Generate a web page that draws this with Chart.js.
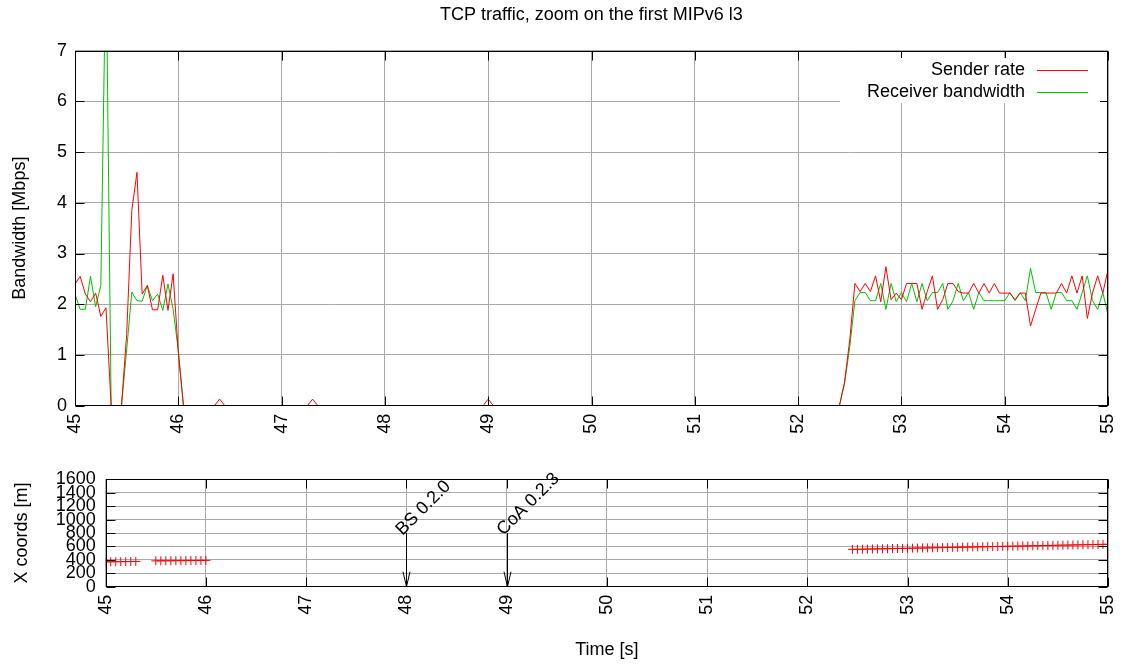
<!DOCTYPE html>
<html>
<head>
<meta charset="utf-8">
<title>TCP traffic, zoom on the first MIPv6 l3</title>
<script src="https://cdn.jsdelivr.net/npm/chart.js@4.4.0/dist/chart.umd.min.js"></script>
<style>
  body { margin: 0; background: #fff; }
  #wrap { position: relative; width: 1121px; height: 664px; }
  canvas { position: absolute; left: 0; }
</style>
</head>
<body>
<div id="wrap">
  <canvas id="bwChart" width="1121" height="450" style="top:0"></canvas>
  <canvas id="posChart" width="1121" height="214" style="top:450px"></canvas>
</div>
<script>
// sample times [s] for the bandwidth plot (flat zero stretches only keep their ends)
const time = [
  45, 45.05, 45.1, 45.15, 45.2, 45.25, 45.3, 45.35, 45.4, 45.45, 45.5,
  45.55, 45.6, 45.65, 45.7, 45.75, 45.8, 45.85, 45.9, 45.95, 46, 46.05,
  46.35, 46.4, 46.45, 47.25, 47.3, 47.35, 48.95, 49, 49.05,
  52.4, 52.45, 52.5, 52.55, 52.6, 52.65, 52.7, 52.75, 52.8, 52.85, 52.9, 52.95,
  53, 53.05, 53.1, 53.15, 53.2, 53.25, 53.3, 53.35, 53.4, 53.45, 53.5, 53.55,
  53.6, 53.65, 53.7, 53.75, 53.8, 53.85, 53.9, 53.95, 54, 54.05, 54.1, 54.15,
  54.2, 54.25, 54.3, 54.35, 54.4, 54.45, 54.5, 54.55, 54.6, 54.65, 54.7, 54.75,
  54.8, 54.85, 54.9, 54.95, 55
];
// Mbps
const senderRate = [
  2.4, 2.55, 2.2, 2.05, 2.22, 1.76, 1.93, 0, 0, 0, 1.4,
  3.85, 4.6, 2.2, 2.37, 1.89, 1.89, 2.57, 1.88, 2.6, 1.05, 0,
  0, 0.13, 0, 0, 0.13, 0, 0, 0.13, 0,
  0, 0.47, 1.3, 2.41, 2.25, 2.41, 2.25, 2.56, 2.05, 2.74, 2.09, 2.22,
  2.09, 2.41, 2.41, 2.41, 1.9, 2.25, 2.56, 1.9, 2.09, 2.41, 2.41, 2.25,
  2.22, 2.22, 2.41, 2.22, 2.41, 2.22, 2.41, 2.22, 2.22, 2.22, 2.09, 2.22,
  2.22, 1.57, 1.9, 2.22, 2.22, 2.22, 2.22, 2.41, 2.22, 2.56, 2.22, 2.56,
  1.72, 2.22, 2.56, 2.22, 2.68
];
const receiverBw = [
  2.2, 1.9, 1.9, 2.55, 1.95, 2.37, 9, 0, 0, 0, 1.1,
  2.24, 2.07, 2.06, 2.37, 2.07, 2.2, 1.88, 2.4, 1.9, 1.09, 0,
  0, 0, 0, 0, 0, 0, 0, 0, 0,
  0, 0.44, 1.16, 2.07, 2.23, 2.23, 2.07, 2.07, 2.41, 1.9, 2.41, 2.05,
  2.23, 2.05, 2.41, 2.05, 2.41, 2.07, 2.23, 2.23, 2.41, 1.9, 2.07, 2.41,
  2.07, 2.23, 1.9, 2.23, 2.07, 2.07, 2.07, 2.07, 2.07, 2.23, 2.07, 2.23,
  2.07, 2.71, 2.23, 2.23, 2.23, 1.9, 2.23, 2.23, 2.07, 2.07, 1.9, 2.23,
  2.56, 2.07, 1.9, 2.23, 1.79
];

// mobile node position samples
const posTime = [
  45, 45.05, 45.1, 45.15, 45.2, 45.25, 45.3,
  45.5, 45.55, 45.6, 45.65, 45.7, 45.75, 45.8, 45.85, 45.9, 45.95, 46,
  52.45, 52.5, 52.55, 52.6, 52.65, 52.7, 52.75, 52.8, 52.85, 52.9, 52.95,
  53, 53.05, 53.1, 53.15, 53.2, 53.25, 53.3, 53.35, 53.4, 53.45, 53.5, 53.55,
  53.6, 53.65, 53.7, 53.75, 53.8, 53.85, 53.9, 53.95, 54, 54.05, 54.1, 54.15,
  54.2, 54.25, 54.3, 54.35, 54.4, 54.45, 54.5, 54.55, 54.6, 54.65, 54.7, 54.75,
  54.8, 54.85, 54.9, 54.95, 55
];
const posX = [
  370, 371, 372, 373, 374, 375, 376,
  385, 386, 386, 387, 388, 388, 389, 390, 390, 391, 392,
  556, 557, 559, 560, 562, 563, 565, 566, 568, 569, 571,
  572, 574, 575, 577, 578, 580, 581, 583, 584, 586, 587, 589,
  590, 592, 593, 595, 596, 598, 599, 601, 602, 604, 605, 607,
  608, 610, 611, 613, 614, 616, 617, 619, 620, 622, 623, 625,
  626, 628, 629, 631, 632
];

// handover events
const eventTime = [48, 49];
const eventLabel = ['BS 0.2.0', 'CoA 0.2.3'];
const eventFrom = 800;

const bwTicks = [0, 1, 2, 3, 4, 5, 6, 7];
const posTicks = [0, 200, 400, 600, 800, 1000, 1200, 1400, 1600];

const FONT = "'Liberation Sans', Arial, Helvetica, sans-serif";
const GRID = '#a9a9a9';
Chart.defaults.font.family = FONT;
Chart.defaults.font.size = 18;
Chart.defaults.color = '#000';
Chart.defaults.animation = false;

function pts(xs, ys) {
  return xs.map((x, i) => ({x: x, y: ys[i]}));
}

// gnuplot style border with inward ticks on all four sides
const frame = {
  id: 'frame',
  afterDatasetsDraw(chart) {
    const {ctx, chartArea: a, scales} = chart;
    const L = Math.round(a.left) + 0.5, R = Math.round(a.right) - 0.5;
    const T = Math.round(a.top) + 0.5, B = Math.round(a.bottom) - 0.5;
    ctx.save();
    ctx.strokeStyle = '#000';
    ctx.lineWidth = 1;
    ctx.beginPath();
    scales.x.ticks.forEach(t => {
      const px = Math.round(scales.x.getPixelForValue(t.value)) + 0.5;
      ctx.moveTo(px, B); ctx.lineTo(px, B - 9);
      ctx.moveTo(px, T); ctx.lineTo(px, T + 9);
    });
    scales.y.ticks.forEach(t => {
      const py = Math.round(scales.y.getPixelForValue(t.value)) + 0.5;
      ctx.moveTo(L, py); ctx.lineTo(L + 9, py);
      ctx.moveTo(R, py); ctx.lineTo(R - 9, py);
    });
    ctx.stroke();
    ctx.strokeRect(L, T, R - L, B - T);
    ctx.restore();
  }
};

const keyBox = {
  id: 'keyBox',
  afterDraw(chart, args, o) {
    const {ctx} = chart;
    ctx.save();
    ctx.fillStyle = '#fff';
    ctx.fillRect(o.left, o.top, o.width, o.height);
    ctx.font = '18px ' + FONT;
    ctx.textAlign = 'right';
    ctx.textBaseline = 'middle';
    chart.data.datasets.forEach((ds, i) => {
      const y = Math.round(o.firstRow + i * o.rowGap) + 0.5;
      ctx.fillStyle = '#000';
      ctx.fillText(ds.label, o.textRight, y);
      ctx.strokeStyle = ds.borderColor;
      ctx.lineWidth = 1;
      ctx.beginPath();
      ctx.moveTo(o.lineFrom, y);
      ctx.lineTo(o.lineTo, y);
      ctx.stroke();
    });
    ctx.restore();
  }
};

const arrows = {
  id: 'arrows',
  afterDatasetsDraw(chart) {
    const {ctx, scales: {x, y}} = chart;
    ctx.save();
    ctx.strokeStyle = '#000';
    ctx.fillStyle = '#000';
    ctx.lineWidth = 1;
    ctx.font = '18px ' + FONT;
    eventTime.forEach((t, i) => {
      const px = Math.round(x.getPixelForValue(t)) + 0.5;
      const top = y.getPixelForValue(eventFrom);
      const bot = y.getPixelForValue(0);
      ctx.beginPath();
      ctx.moveTo(px, top); ctx.lineTo(px, bot);
      ctx.moveTo(px - 3.5, bot - 15); ctx.lineTo(px, bot); ctx.lineTo(px + 3.5, bot - 15);
      ctx.stroke();
      ctx.save();
      ctx.translate(px - 4, top + 3);
      ctx.rotate(-Math.PI / 4);
      ctx.textAlign = 'left';
      ctx.textBaseline = 'alphabetic';
      ctx.fillText(eventLabel[i], 0, 0);
      ctx.restore();
    });
    ctx.restore();
  }
};

function xAxis(height, withTitle) {
  return {
    type: 'linear',
    min: 45, max: 55,
    grid: { color: GRID, drawTicks: false },
    border: { display: false },
    ticks: { stepSize: 1, autoSkip: false, minRotation: 90, maxRotation: 90, padding: 8,
             callback: v => String(v) },
    title: withTitle ? { display: true, text: 'Time [s]', font: { size: 18 }, padding: { top: 0, bottom: 3 } }
                     : { display: false },
    afterFit: s => { s.height = height; s.paddingLeft = 0; s.paddingRight = 0; }
  };
}

function yAxis(min, max, tickList, text, width, pad, titlePad) {
  return {
    min: min, max: max,
    grid: { color: GRID, drawTicks: false },
    border: { display: false },
    afterBuildTicks: s => { s.ticks = tickList.map(v => ({value: v})); },
    ticks: { autoSkip: false, padding: pad, callback: v => String(v) },
    title: { display: true, text: text, padding: { top: titlePad, bottom: 0 } },
    afterFit: s => { s.width = width; s.paddingTop = 0; s.paddingBottom = 0; }
  };
}

new Chart(document.getElementById('bwChart'), {
  type: 'line',
  data: {
    datasets: [
      { label: 'Sender rate', data: pts(time, senderRate), borderColor: 'rgb(255,0,0)',
        borderWidth: 1, pointRadius: 0, tension: 0 },
      { label: 'Receiver bandwidth', data: pts(time, receiverBw), borderColor: 'rgb(0,192,0)',
        borderWidth: 1, pointRadius: 0, tension: 0 }
    ]
  },
  options: {
    responsive: false,
    layout: { padding: { left: 0, right: 13, top: 0, bottom: 0 } },
    scales: {
      x: xAxis(44.3, false),
      y: yAxis(0, 7, bwTicks, 'Bandwidth [Mbps]', 75, 8, 9)
    },
    plugins: {
      legend: { display: false },
      tooltip: { enabled: false },
      title: {
        display: true, fullSize: false,
        text: 'TCP traffic, zoom on the first MIPv6 l3',
        font: { size: 18, weight: 'normal' },
        color: '#000',
        padding: { top: 4, bottom: 25 }
      },
      keyBox: { left: 840, top: 58, width: 260, height: 45,
                textRight: 1025, lineFrom: 1037, lineTo: 1088, firstRow: 70, rowGap: 21.7 }
    }
  },
  plugins: [frame, keyBox]
});

new Chart(document.getElementById('posChart'), {
  type: 'scatter',
  data: {
    datasets: [
      { label: 'X coords', data: pts(posTime, posX), borderColor: 'rgb(255,0,0)',
        backgroundColor: 'rgb(255,0,0)', pointStyle: 'cross', pointRadius: 4.5,
        borderWidth: 1, showLine: false }
    ]
  },
  options: {
    responsive: false,
    layout: { padding: { left: 0, right: 13, top: 29.3, bottom: 0 } },
    scales: {
      x: xAxis(77.3, true),
      y: yAxis(0, 1600, posTicks, 'X coords [m]', 105.7, 10, 11)
    },
    plugins: {
      legend: { display: false },
      tooltip: { enabled: false }
    }
  },
  plugins: [frame, arrows]
});
</script>
</body>
</html>
